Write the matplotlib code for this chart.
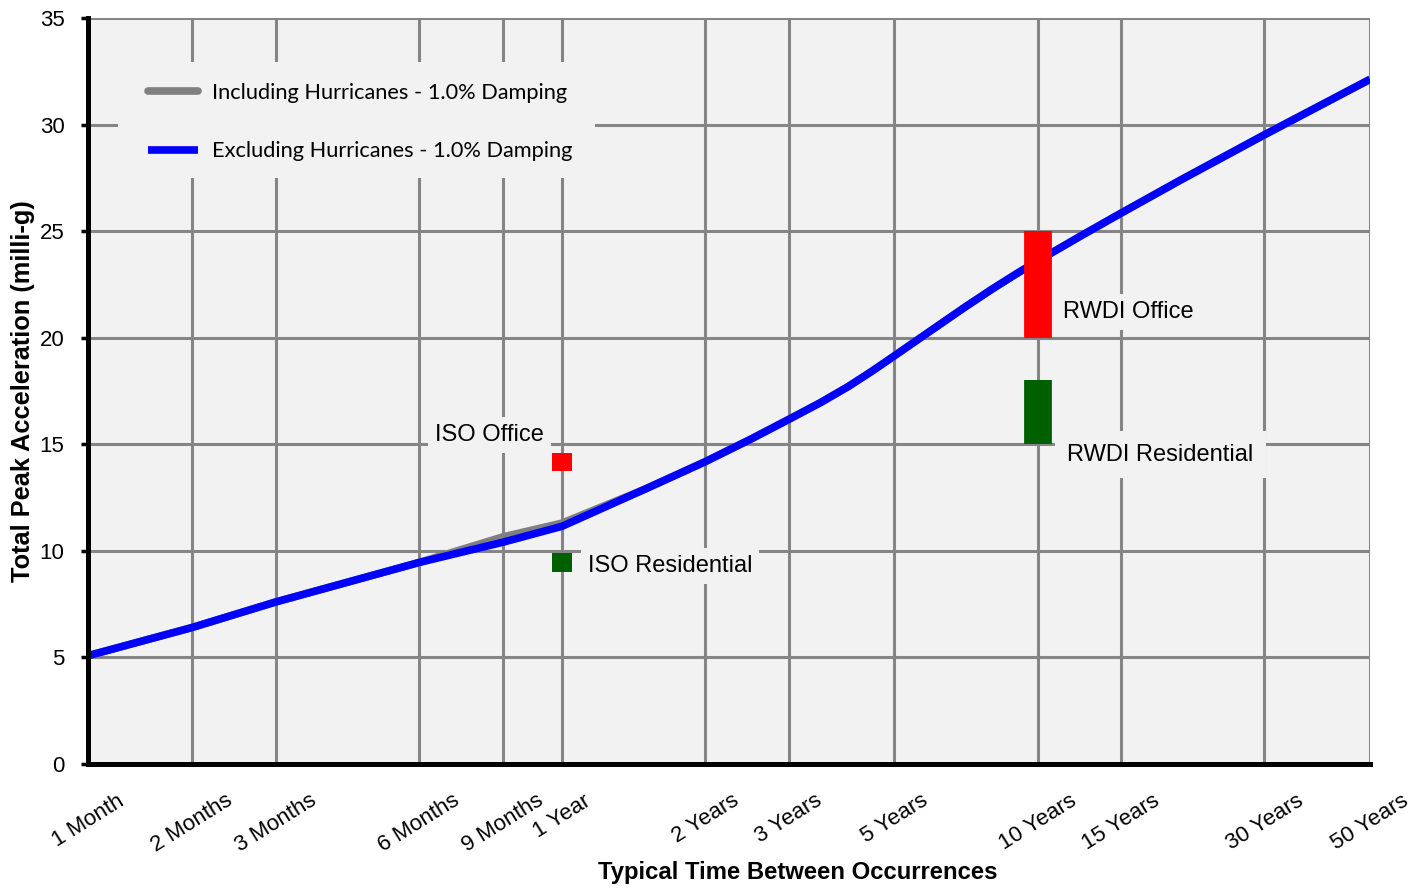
import matplotlib.pyplot as plt
from matplotlib.patches import Rectangle
import numpy as np

# return periods in months for the acceleration curves
periods = [1, 2, 3, 6, 9, 12, 18, 24, 30, 36, 42, 48, 54, 60, 72, 84, 96, 108,
           120, 150, 180, 240, 360, 600]
excl_hurricanes = [5.08, 6.4, 7.6, 9.45, 10.4, 11.15, 12.91, 14.18, 15.25, 16.17,
                   16.96, 17.71, 18.45, 19.15, 20.37, 21.4, 22.26, 22.98,
                   23.6, 24.85, 25.85, 27.4, 29.52, 32.12]
incl_hurricanes = [5.08, 6.4, 7.6, 9.45, 10.65, 11.3, 12.91, 14.18, 15.25, 16.17,
                   16.96, 17.71, 18.45, 19.15, 20.37, 21.4, 22.26, 22.98,
                   23.6, 24.85, 25.85, 27.4, 29.52, 32.12]

tick_months = [1, 2, 3, 6, 9, 12, 24, 36, 60, 120, 180, 360, 600]
tick_labels = ['1 Month', '2 Months', '3 Months', '6 Months', '9 Months', '1 Year',
               '2 Years', '3 Years', '5 Years', '10 Years', '15 Years', '30 Years',
               '50 Years']

# comfort criteria ranges (period in months, low, high)
criteria_names = ['ISO Office', 'ISO Residential', 'RWDI Office', 'RWDI Residential']
criteria_period = [12, 12, 120, 120]
criteria_low = [13.75, 9.0, 20.0, 15.0]
criteria_high = [14.6, 9.9, 25.0, 18.0]
criteria_colors = ['#ff0000', '#006000', '#ff0000', '#006000']

BG = '#f2f2f2'
GRID = '#858585'

# log axis, with the stretch from 1 to 2 months squeezed in
K = 0.2185


def fwd(m):
    m = np.asarray(m, dtype=float)
    m = np.clip(m, 1e-6, None)
    return np.where(m >= 2, np.log10(m), np.log10(2) - (2 - m) * K)


def inv(p):
    p = np.asarray(p, dtype=float)
    return np.where(p >= np.log10(2), 10 ** p, 2 - (np.log10(2) - p) / K)


plt.rcParams['font.family'] = ['Liberation Sans', 'DejaVu Sans']

fig = plt.figure(figsize=(14.22, 8.9), dpi=100)
ax = fig.add_axes([0.0619, 0.1416, 0.9015, 0.8382])
ax.set_facecolor(BG)
ax.set_xscale('function', functions=(fwd, inv))
ax.set_xlim(1, 600)
ax.set_ylim(0, 35)

ax.plot(periods, incl_hurricanes, color='#808080', lw=5.5, solid_capstyle='round',
        solid_joinstyle='round', label='Including Hurricanes - 1.0% Damping', zorder=3)
ax.plot(periods, excl_hurricanes, color='#0000ff', lw=5.5, solid_capstyle='butt',
        solid_joinstyle='round', label='Excluding Hurricanes - 1.0% Damping', zorder=4)

for i in range(len(criteria_names)):
    width = 14.4 if criteria_period[i] < 100 else 20
    lc = ax.vlines(criteria_period[i], criteria_low[i], criteria_high[i],
                   colors=criteria_colors[i], lw=width, zorder=5)
    lc.set_capstyle('butt')

box = dict(facecolor=BG, edgecolor='none', pad=5)
ax.text(11.0, 15.45, 'ISO Office', ha='right', va='center', fontsize=17, bbox=box, zorder=2)
ax.text(13.6, 9.3, 'ISO Residential', ha='left', va='center', fontsize=17, bbox=box, zorder=2)
ax.text(135.9, 21.2, 'RWDI Office', ha='left', va='center', fontsize=17, bbox=box, zorder=2)
ax.text(138.4, 14.5, 'RWDI Residential', ha='left', va='center', fontsize=17,
        bbox=dict(facecolor=BG, edgecolor='none', pad=9), zorder=2)

ax.set_xticks(tick_months)
ax.set_xticklabels(tick_labels, rotation=32, ha='center', fontsize=16)
ax.set_yticks(np.arange(0, 36, 5))
ax.tick_params(axis='x', length=0, pad=19)
ax.tick_params(axis='y', length=5, width=2.5, pad=12, labelsize=16)
ax.xaxis.set_minor_locator(plt.NullLocator())

ax.grid(True, color=GRID, lw=2.2, zorder=1)
ax.set_axisbelow(True)

for side in ['top', 'right']:
    ax.spines[side].set_visible(False)
for side in ['left', 'bottom']:
    ax.spines[side].set_linewidth(3.6)
    ax.spines[side].set_color('black')
    ax.spines[side].set_zorder(6)

ax.set_xlabel('Typical Time Between Occurrences', fontsize=17.2, fontweight='bold')
ax.xaxis.set_label_coords(0.554, -0.13)
ax.set_ylabel('Total Peak Acceleration (milli-g)', fontsize=18.3, fontweight='bold')
ax.yaxis.set_label_coords(-0.041, 0.5)

# plain box behind the legend hides the grid there
ax.add_patch(Rectangle((0.0234, 0.7855), 0.3721, 0.1555, transform=ax.transAxes,
                       facecolor=BG, edgecolor='none', zorder=2))
leg = ax.legend(loc='upper left', bbox_to_anchor=(0.0468, 0.9129), borderaxespad=0,
                frameon=False, handlelength=2.3, labelspacing=1.76, borderpad=0,
                handletextpad=0.65, prop={'family': 'Lato', 'size': 15.7})
leg.set_zorder(7)

fig.savefig('out.png', dpi=100)
